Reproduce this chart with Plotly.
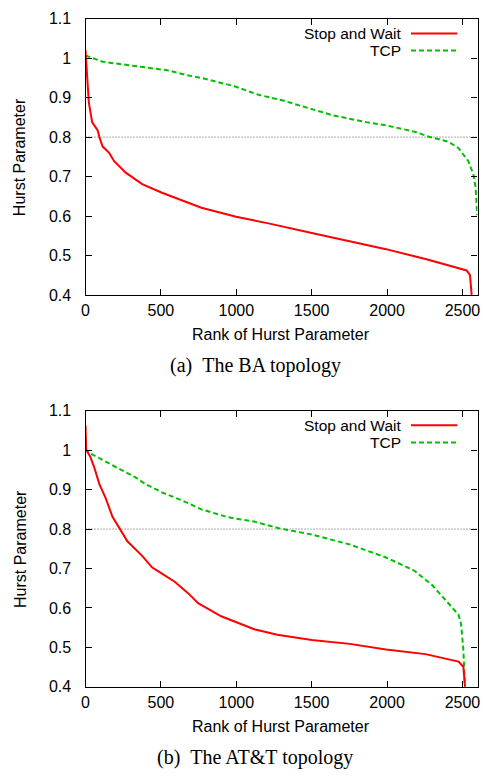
import plotly.graph_objects as go

# ---- Data ----
ba_sw_x = [0, 9, 22, 44, 81, 92, 114, 157, 190, 267, 376, 507, 660, 769, 999, 1206,
           1501, 1753, 1993, 2255, 2496, 2528, 2550, 2561]
ba_sw_y = [1.02, 0.962, 0.888, 0.838, 0.817, 0.800, 0.776, 0.760, 0.739, 0.710, 0.681,
           0.659, 0.636, 0.621, 0.598, 0.582, 0.557, 0.536, 0.516, 0.491, 0.466, 0.462,
           0.450, 0.40]
ba_tcp_x = [0, 114, 332, 551, 660, 769, 988, 1141, 1316, 1501, 1643, 1862, 1993, 2190,
            2277, 2408, 2474, 2539, 2572, 2587, 2598]
ba_tcp_y = [1.007, 0.991, 0.980, 0.969, 0.958, 0.950, 0.929, 0.908, 0.892, 0.871, 0.855,
            0.838, 0.830, 0.813, 0.801, 0.788, 0.772, 0.739, 0.706, 0.673, 0.602]

att_sw_x = [0, 4, 31, 59, 92, 135, 179, 223, 278, 376, 441, 507, 594, 682, 747, 900,
            999, 1119, 1272, 1501, 1753, 1993, 2255, 2474, 2506, 2517]
att_sw_y = [1.063, 1.001, 0.984, 0.955, 0.914, 0.877, 0.831, 0.802, 0.769, 0.732, 0.703,
            0.687, 0.666, 0.637, 0.612, 0.579, 0.565, 0.546, 0.532, 0.519, 0.509, 0.495,
            0.483, 0.464, 0.451, 0.40]
att_tcp_x = [0, 5, 26, 114, 212, 332, 398, 507, 638, 769, 944, 1119, 1283, 1501, 1753,
             1993, 2179, 2299, 2386, 2474, 2491, 2506, 2517]
att_tcp_y = [1.025, 1.0, 0.993, 0.976, 0.955, 0.931, 0.914, 0.893, 0.873, 0.850, 0.830,
             0.819, 0.802, 0.786, 0.761, 0.728, 0.695, 0.658, 0.621, 0.583, 0.559, 0.493,
             0.40]

series_names = ["Stop and Wait", "TCP"]
captions = ["(a)\u2002The BA topology", "(b)\u2002The AT&T topology"]
x_title = "Rank of Hurst Parameter"
y_title = "Hurst Parameter"
x_ticks = [0, 500, 1000, 1500, 2000, 2500]
y_ticks = [0.4, 0.5, 0.6, 0.7, 0.8, 0.9, 1.0, 1.1]
y_tick_text = ["0.4", "0.5", "0.6", "0.7", "0.8", "0.9", "1", "1.1"]
threshold = 0.8
x_range = [0, 2600]
y_range = [0.4, 1.1]

# ---- Styling ----
W, H = 483, 780
RED = "#ff0000"
GREEN = "#00c000"
SANS = "Liberation Sans, Arial, sans-serif"
SERIF = "Liberation Serif, Times New Roman, serif"

def px_x(p):
    return p / W

def px_y(p):
    return 1 - p / H

x_dom = [px_x(82.7), px_x(480.5)]
dom_top = [px_y(293.3), px_y(11)]
dom_bot = [px_y(694), px_y(411.7)]

fig = go.Figure()

panels = [
    (ba_sw_x, ba_sw_y, ba_tcp_x, ba_tcp_y, "x", "y"),
    (att_sw_x, att_sw_y, att_tcp_x, att_tcp_y, "x2", "y2"),
]
for sx, sy, tx, ty, xa, ya in panels:
    fig.add_trace(go.Scatter(x=tx, y=ty, mode="lines", name=series_names[1],
                             line=dict(color=GREEN, width=2, dash="5px,3px"),
                             xaxis=xa, yaxis=ya, showlegend=False))
    fig.add_trace(go.Scatter(x=sx, y=sy, mode="lines", name=series_names[0],
                             line=dict(color=RED, width=2),
                             xaxis=xa, yaxis=ya, showlegend=False))

axis_common = dict(showgrid=False, zeroline=False, showline=True, linecolor="black",
                   linewidth=1.3, mirror="ticks", ticks="inside", ticklen=6,
                   tickcolor="black", tickwidth=1, ticklabeloverflow="allow",
                   tickfont=dict(family=SANS, size=16, color="black"))

fig.update_layout(
    width=W, height=H, margin=dict(l=0, r=0, t=0, b=0),
    paper_bgcolor="white", plot_bgcolor="white", showlegend=False,
    xaxis=dict(domain=x_dom, range=x_range, anchor="y", tickvals=x_ticks,
               ticklabelstandoff=1, **axis_common),
    yaxis=dict(domain=dom_top, range=y_range, anchor="x", tickvals=y_ticks,
               ticktext=y_tick_text, ticklabelstandoff=10, **axis_common),
    xaxis2=dict(domain=x_dom, range=x_range, anchor="y2", tickvals=x_ticks,
                ticklabelstandoff=1, **axis_common),
    yaxis2=dict(domain=dom_bot, range=y_range, anchor="x2", tickvals=y_ticks,
                ticktext=y_tick_text, ticklabelstandoff=10, **axis_common),
)

# threshold dotted lines
for xa, ya in [("x", "y"), ("x2", "y2")]:
    fig.add_shape(type="line", xref=f"{xa} domain", yref=ya, x0=0, x1=1,
                  y0=threshold, y1=threshold,
                  line=dict(color="#555555", width=1, dash="1px,2px"), layer="below")

# axis titles, captions and legends
panel_px = [
    dict(xt=333.3, yt=152.7, cap=365.7, leg=(26.0, 43.5)),
    dict(xt=735.0, yt=553.3, cap=766.0, leg=(426.6, 444.1)),
]
for i, p in enumerate(panel_px):
    fig.add_annotation(text=x_title, xref="paper", yref="paper",
                       x=px_x(281.4), y=px_y(p["xt"]), showarrow=False,
                       xanchor="center", yanchor="middle",
                       font=dict(family=SANS, size=16, color="black"))
    fig.add_annotation(text=y_title, xref="paper", yref="paper",
                       x=px_x(16), y=px_y(p["yt"]), showarrow=False, textangle=-90,
                       xanchor="center", yanchor="middle",
                       font=dict(family=SANS, size=16, color="black"))
    fig.add_annotation(text=captions[i], xref="paper", yref="paper",
                       x=px_x(255), y=px_y(p["cap"]), showarrow=False,
                       xanchor="center", yanchor="middle",
                       font=dict(family=SERIF, size=20, color="black"))
    for j, (name, col, dash) in enumerate([(series_names[0], RED, "solid"),
                                           (series_names[1], GREEN, "5px,3px")]):
        yy = px_y(p["leg"][j])
        fig.add_annotation(text=name, xref="paper", yref="paper",
                           x=px_x(404), y=yy, showarrow=False, borderpad=0,
                           xanchor="right", yanchor="middle",
                           font=dict(family=SANS, size=15.5, color="black"))
        fig.add_shape(type="line", xref="paper", yref="paper",
                      x0=px_x(413), x1=px_x(460), y0=yy, y1=yy,
                      line=dict(color=col, width=2, dash=dash))

fig.write_html("out.html")
